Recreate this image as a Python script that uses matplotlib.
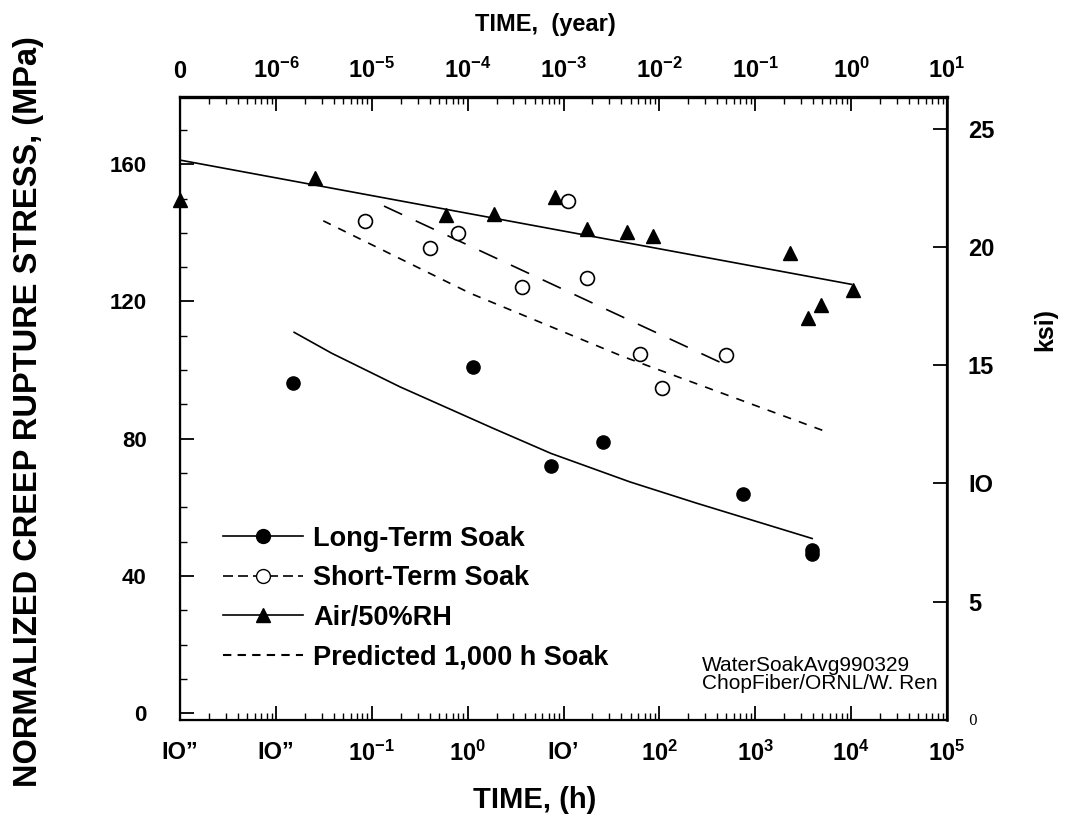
"""
Creep rupture stress vs time for chopped-fiber composite:
long-term soak, short-term soak, air/50%RH and predicted 1,000 h soak.
"""

import matplotlib
matplotlib.use("Agg")
import matplotlib.pyplot as plt
from matplotlib.lines import Line2D
from matplotlib.ticker import LogLocator, MultipleLocator, NullFormatter

# -----------------------------
# 1. Data
# -----------------------------
# Air / 50%RH (filled triangles) and its fit
air_t = [1e-3, 0.0256, 0.59, 1.9, 8.1, 17.7, 45.5, 86, 2300, 3570, 4800, 10350]
air_s = [149.6, 155.9, 145.2, 145.5, 150.5, 141.0, 140.3, 139.1, 134.2, 115.1, 119.0, 123.3]
air_fit_t = [1e-3, 1.0e4]
air_fit_s = [161.2, 125.0]

# Short-term soak (open circles) and its fit
short_t = [0.085, 0.405, 0.80, 3.7, 11, 17.7, 62, 107, 500]
short_s = [143.5, 135.7, 139.9, 124.1, 149.4, 126.9, 104.7, 94.7, 104.4]
short_fit_t = [0.134, 450]
short_fit_s = [147.8, 102.0]

# Long-term soak (filled circles) and its fit
long_t = [0.015, 1.13, 7.4, 26, 750, 3900, 3950]
long_s = [96.3, 101.0, 72.1, 79.1, 63.8, 47.5, 46.3]
long_fit_t = [0.0155, 0.0382, 0.197, 1.85, 7.4, 49.2, 244, 3917]
long_fit_s = [111.0, 104.9, 95.1, 83.0, 75.7, 67.4, 61.2, 50.9]

# Predicted 1,000 h soak
pred_t = [0.0312, 1.06, 42, 5530]
pred_s = [143.5, 122.4, 103.9, 82.0]

# Axis ticks and labels
hour_ticks = [1e-3, 1e-2, 1e-1, 1e0, 1e1, 1e2, 1e3, 1e4, 1e5]
hour_labels = ["IO\u201d", "IO\u201d", r"$10^{-1}$", r"$10^{0}$", "IO\u2019",
               r"$10^{2}$", r"$10^{3}$", r"$10^{4}$", r"$10^{5}$"]
year_labels = ["0", r"$10^{-6}$", r"$10^{-5}$", r"$10^{-4}$", r"$10^{-3}$",
               r"$10^{-2}$", r"$10^{-1}$", r"$10^{0}$", r"$10^{1}$"]
mpa_ticks = [0, 40, 80, 120, 160]
ksi_ticks = [0, 5, 10, 15, 20, 25]
ksi_labels = ["0", "5", "IO", "15", "20", "25"]
MPA_PER_KSI = 6.895
Y_MIN, Y_MAX = -2, 179.6   # ksi scale starts at the bottom frame line

# -----------------------------
# 2. Style
# -----------------------------
plt.rcParams["font.family"] = ["Liberation Sans", "DejaVu Sans"]
plt.rcParams["font.weight"] = "bold"
plt.rcParams["mathtext.fontset"] = "custom"
plt.rcParams["mathtext.rm"] = "Liberation Sans:bold"
plt.rcParams["mathtext.bf"] = "Liberation Sans:bold"
plt.rcParams["mathtext.default"] = "bf"

fig = plt.figure(figsize=(10.8, 8.31), dpi=100)
ax = fig.add_axes([0.1667, 0.1336, 0.7102, 0.7497])

# -----------------------------
# 3. Plot
# -----------------------------
ax.plot(air_fit_t, air_fit_s, color="k", lw=1.2, clip_on=False)
ax.plot(short_fit_t, short_fit_s, color="k", lw=1.2, ls=(0, (12, 9)))
ax.plot(long_fit_t, long_fit_s, color="k", lw=1.2)
ax.plot(pred_t, pred_s, color="k", lw=1.2, ls=(0, (5, 5)))

ax.plot(air_t, air_s, ls="none", marker="^", ms=10, color="k", clip_on=False)
ax.plot(short_t, short_s, ls="none", marker="o", ms=10, mfc="white",
        mec="k", mew=1.2)
ax.plot(long_t, long_s, ls="none", marker="o", ms=9.5, color="k")

ax.set_xscale("log")
ax.set_xlim(1e-3, 1e5)
ax.set_ylim(Y_MIN, Y_MAX)

ax.set_xticks(hour_ticks, hour_labels)
ax.xaxis.set_minor_locator(LogLocator(base=10, subs=range(2, 10), numticks=20))
ax.xaxis.set_minor_formatter(NullFormatter())
ax.set_yticks(mpa_ticks)
ax.yaxis.set_minor_locator(MultipleLocator(10))
ax.tick_params(which="both", direction="in", top=False, right=False, labelsize=16)
ax.tick_params(axis="x", labelsize=17, pad=15)
ax.tick_params(axis="y", pad=24)
ax.tick_params(which="major", length=10, width=1.3)
ax.tick_params(which="minor", length=5, width=1.0)
for side in ["left", "bottom", "right"]:
    ax.spines[side].set_linewidth(1.6)
ax.spines["top"].set_linewidth(2.4)

# Top axis in years
ax2 = ax.twiny()
ax2.set_xscale("log")
ax2.set_xlim(ax.get_xlim())
ax2.set_xticks(hour_ticks, year_labels)
ax2.xaxis.set_minor_locator(LogLocator(base=10, subs=range(2, 10), numticks=20))
ax2.xaxis.set_minor_formatter(NullFormatter())
ax2.tick_params(which="both", direction="in", labelsize=17, pad=10)
ax2.tick_params(which="major", length=10, width=1.3)
ax2.tick_params(which="minor", length=5, width=1.0)

# Right axis in ksi
ksi = ax.secondary_yaxis("right", functions=(lambda m: (m - Y_MIN) / MPA_PER_KSI,
                                             lambda k: k * MPA_PER_KSI + Y_MIN))
ksi.set_ticks(ksi_ticks, labels=ksi_labels)
ksi.tick_params(direction="in", length=10, width=1.3, labelsize=17, pad=15)
ksi.spines["right"].set_linewidth(1.8)
zero_lab = ksi.get_yticklabels()[0]
zero_lab.set_fontfamily("DejaVu Serif")
zero_lab.set_fontweight("normal")
zero_lab.set_fontsize(10)

# Labels
fig.text(0.026, 0.505, "NORMALIZED CREEP RUPTURE STRESS, (MPa)", rotation=90,
         ha="center", va="center", fontsize=23.5)
fig.text(0.495, 0.037, "TIME, (h)", ha="center", va="center", fontsize=21)
fig.text(0.505, 0.970, "TIME,  (year)", ha="center", va="center", fontsize=17)
fig.text(0.968, 0.603, "ksi)", rotation=90, ha="center", va="center", fontsize=18)

ax.text(0.681, 0.103, "WaterSoakAvg990329\nChopFiber/ORNL/W. Ren",
        transform=ax.transAxes, ha="left", va="top", fontsize=15,
        fontweight="normal", linespacing=0.95)

# Legend
handles = [
    Line2D([], [], color="k", lw=1.2, marker="o", ms=10),
    Line2D([], [], color="k", lw=1.2, ls=(0, (6, 3)), marker="o", mfc="white", ms=10),
    Line2D([], [], color="k", lw=1.2, marker="^", ms=10),
    Line2D([], [], color="k", lw=1.5, ls=(0, (4, 3))),
]
labels = ["Long-Term Soak", "Short-Term Soak", "Air/50%RH", "Predicted 1,000 h Soak"]
ax.legend(handles, labels, loc="upper left", bbox_to_anchor=(0.056, 0.312),
          frameon=False, prop={"weight": "bold", "size": 19.5}, handlelength=2.95,
          handletextpad=0.37, labelspacing=0.5, borderpad=0, borderaxespad=0)

plt.savefig("out.png", dpi=100)
